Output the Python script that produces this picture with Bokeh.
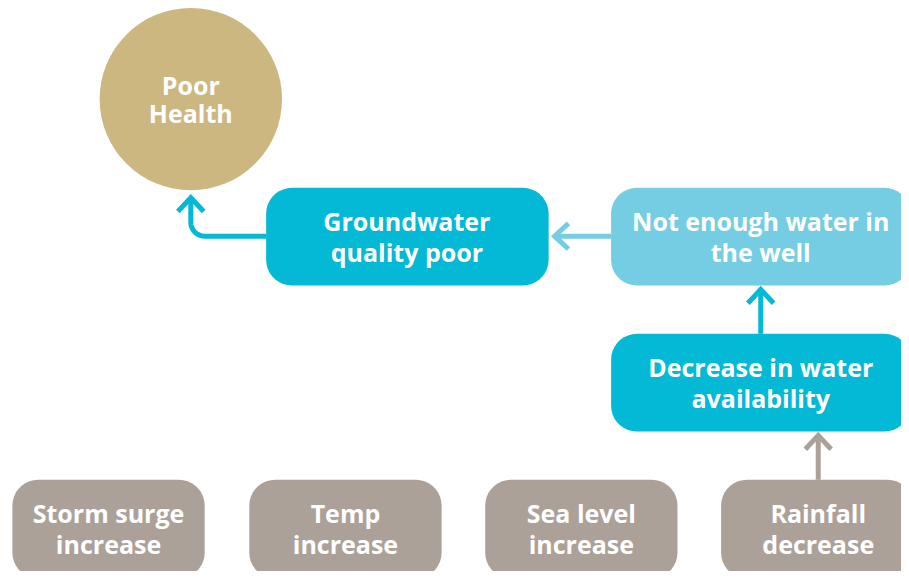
import numpy as np
from bokeh.plotting import figure
from bokeh.models import Range1d
from bokeh.core.properties import value
from bokeh.embed import file_html
from bokeh.resources import INLINE

# ---- diagram content ----
box_line1 = ["Groundwater", "Not enough water in", "Decrease in water",
             "Storm surge", "Temp", "Sea level", "Rainfall"]
box_line2 = ["quality poor", "the well", "availability",
             "increase", "increase", "increase", "decrease"]
box_left = [268, 616, 616, 12, 251, 489, 727]
box_right = [553, 918, 918, 206, 445, 683, 921]
box_top = [190, 190, 338, 486, 486, 486, 486]
box_bottom = [289, 289, 437, 586, 586, 586, 586]
box_colors = ["#03B9D5", "#74CDE2", "#03B9D5",
              "#ABA199", "#ABA199", "#ABA199", "#ABA199"]
box_text_x = [410, 767, 767, 109, 348, 586, 825]

circle_x = [192]
circle_y = [100]
circle_r = [92]
circle_lines = ["Poor", "Health"]
circle_color = "#CDB781"

FONT = value("Open Sans")
FS = "25px"
CYAN = "#03B9D5"
LIGHT = "#74CDE2"
GREY = "#ABA199"

p = figure(width=901, height=571, output_backend="svg", toolbar_location=None,
           x_range=Range1d(0, 909), y_range=Range1d(579, 0),
           x_axis_location=None, y_axis_location=None, min_border=0)
p.grid.visible = False
p.outline_line_color = None
p.background_fill_color = "white"


def rounded_rect(l, r, t, b, rad, n=10):
    xs, ys = [], []
    corners = [(r - rad, t + rad, -np.pi / 2, 0),
               (r - rad, b - rad, 0, np.pi / 2),
               (l + rad, b - rad, np.pi / 2, np.pi),
               (l + rad, t + rad, np.pi, 1.5 * np.pi)]
    for cx, cy, a0, a1 in corners:
        a = np.linspace(a0, a1, n)
        xs.extend(cx + rad * np.cos(a))
        ys.extend(cy + rad * np.sin(a))
    return xs, ys


pxs, pys = [], []
for l, r, t, b in zip(box_left, box_right, box_top, box_bottom):
    xx, yy = rounded_rect(l, r, t, b, 26)
    pxs.append(xx)
    pys.append(yy)
p.patches(pxs, pys, fill_color=box_colors, line_color=None)

p.circle(x=circle_x, y=circle_y, radius=circle_r, fill_color=circle_color, line_color=None)

# texts
tx, ty, tt = [], [], []
for x, t, b, l1, l2 in zip(box_text_x, box_top, box_bottom, box_line1, box_line2):
    mid = (t + min(b, t + 99)) / 2
    tx += [x, x]
    ty += [mid - 16, mid + 16]
    tt += [l1, l2]
tx += [circle_x[0], circle_x[0]]
ty += [circle_y[0] - 14, circle_y[0] + 14]
tt += circle_lines
p.text(x=tx, y=ty, text=tt, text_font=FONT, text_font_style="bold",
       text_font_size=FS, text_color="white", text_align="center",
       text_baseline="middle")

# arrows
LW = 5
BACK = 14
HALF = 13


def arrow(x0, y0, x1, y1, color):
    d = np.array([x1 - x0, y1 - y0], dtype=float)
    d /= np.hypot(*d)
    n = np.array([-d[1], d[0]])
    p.line([x0, x1], [y0, y1], line_color=color, line_width=LW)
    tip = np.array([x1, y1], dtype=float)
    a = tip - BACK * d + HALF * n
    b = tip - BACK * d - HALF * n
    p.line([a[0], tip[0], b[0]], [a[1], tip[1], b[1]], line_color=color,
           line_width=LW, line_join="miter")


arrow(825, 486, 825, 441, GREY)
arrow(767, 338, 767, 293, CYAN)
arrow(616, 239, 559, 239, LIGHT)

# bent arrow Groundwater -> Poor Health
rad = 14
a = np.linspace(np.pi / 2, np.pi, 10)
bx = [268] + list(192 + rad + rad * np.cos(a)) + [192]
by = [239] + list(239 - rad + rad * np.sin(a)) + [215]
p.line(bx, by, line_color=CYAN, line_width=LW)
arrow(192, 216, 192, 200, CYAN)

open("out.html", "w").write(file_html(p, INLINE))
